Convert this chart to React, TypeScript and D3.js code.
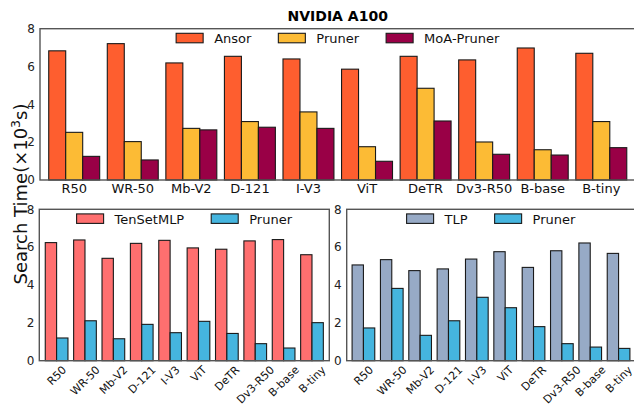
import React, { useEffect, useRef } from 'react';
import * as d3 from 'd3';

// Top panel: NVIDIA A100
const topModels = ['R50', 'WR-50', 'Mb-V2', 'D-121', 'I-V3', 'ViT', 'DeTR', 'Dv3-R50', 'B-base', 'B-tiny'];
const ansor = [6.83, 7.21, 6.19, 6.54, 6.40, 5.86, 6.54, 6.35, 6.98, 6.70];
const prunerTop = [2.52, 2.03, 2.73, 3.09, 3.60, 1.76, 4.85, 2.01, 1.60, 3.09];
const moaPruner = [1.25, 1.06, 2.65, 2.79, 2.73, 0.99, 3.12, 1.36, 1.32, 1.71];

// Bottom-left: TenSetMLP vs Pruner
const tensetMLP = [6.24, 6.38, 5.41, 6.20, 6.36, 5.96, 5.89, 6.33, 6.40, 5.60];
const prunerLeft = [1.20, 2.11, 1.16, 1.92, 1.48, 2.08, 1.44, 0.90, 0.67, 2.01];

// Bottom-right: TLP vs Pruner
const tlp = [5.06, 5.34, 4.76, 4.85, 5.37, 5.76, 4.93, 5.81, 6.22, 5.67];
const prunerRight = [1.73, 3.82, 1.34, 2.11, 3.35, 2.80, 1.80, 0.90, 0.72, 0.65];

const yTicks = [0, 2, 4, 6, 8];

const FONT = 'DejaVu Sans, Verdana, sans-serif';

type Series = { name: string; values: number[]; color: string };

function measure(text: string, size: number) {
  const ctx = document.createElement('canvas').getContext('2d');
  if (!ctx) return text.length * size * 0.6;
  ctx.font = `${size}px "DejaVu Sans"`;
  return ctx.measureText(text).width;
}

function drawPanel(
  svg: d3.Selection<SVGSVGElement, unknown, null, undefined>,
  box: { left: number; right: number; top: number; bottom: number },
  series: Series[],
  opts: { barW: number; pad: number; rotate: boolean }
) {
  const g = svg.append('g');
  const x = d3.scaleLinear().domain([-opts.pad, topModels.length - 1 + opts.pad]).range([box.left, box.right]);
  const y = d3.scaleLinear().domain([0, 8]).range([box.bottom, box.top]);
  const n = series.length;

  // bars
  series.forEach((s, si) => {
    g.selectAll(null).data(s.values).join('rect')
      .attr('x', (_, i) => x(i + (si - n / 2) * opts.barW))
      .attr('width', x(opts.barW) - x(0))
      .attr('y', d => y(d))
      .attr('height', d => y(0) - y(d))
      .attr('fill', s.color)
      .attr('stroke', '#1a1a1a').attr('stroke-width', 1.1);
  });

  // frame
  g.append('rect').attr('x', box.left).attr('y', box.top)
    .attr('width', box.right - box.left).attr('height', box.bottom - box.top)
    .attr('fill', 'none').attr('stroke', '#555').attr('stroke-width', 1.4);

  // y ticks
  g.selectAll(null).data(yTicks).join('text')
    .attr('x', box.left - 5).attr('y', d => y(d)).attr('dy', '0.36em')
    .attr('text-anchor', 'end').attr('font-family', FONT).attr('font-size', 12).attr('fill', '#222')
    .text(d => d);

  // x ticks
  if (!opts.rotate) {
    g.selectAll(null).data(topModels).join('text')
      .attr('x', (_, i) => x(i)).attr('y', box.bottom + 13)
      .attr('text-anchor', 'middle').attr('font-family', FONT).attr('font-size', 13).attr('fill', '#111')
      .text(d => d);
  } else {
    // rotated 45°, bounding box centred under the tick
    g.selectAll(null).data(topModels).join('text')
      .attr('transform', (d, i) => {
        const w = measure(d, 11);
        const h = (w + 12.8) * Math.SQRT1_2;
        return `translate(${x(i)},${box.bottom + 2.5 + h / 2}) rotate(-45)`;
      })
      .attr('text-anchor', 'middle').attr('dy', '0.36em')
      .attr('font-family', FONT).attr('font-size', 11).attr('fill', '#111')
      .text(d => d);
  }

  // legend, centred on the frame
  const handleW = 27, handleGap = 11, colGap = 27;
  const widths = series.map(s => handleW + handleGap + measure(s.name, 13));
  const total = d3.sum(widths) + colGap * (n - 1);
  let lx = (box.left + box.right) / 2 - total / 2;
  const ly = box.top + 4.6;
  series.forEach((s, si) => {
    g.append('rect').attr('x', lx).attr('y', ly).attr('width', handleW).attr('height', 9.5)
      .attr('fill', s.color).attr('stroke', '#1a1a1a').attr('stroke-width', 1.1);
    g.append('text').attr('x', lx + handleW + handleGap).attr('y', ly + 9.7)
      .attr('font-family', FONT).attr('font-size', 13).attr('fill', '#111').text(s.name);
    lx += widths[si] + colGap;
  });
}

export default function App() {
  const svgRef = useRef<SVGSVGElement>(null);

  useEffect(() => {
    const svg = d3.select(svgRef.current as SVGSVGElement);
    svg.selectAll('*').remove();

    drawPanel(svg, { left: 40, right: 635.5, top: 28.7, bottom: 180 }, [
      { name: 'Ansor', values: ansor, color: '#FE5E2F' },
      { name: 'Pruner', values: prunerTop, color: '#FCBB35' },
      { name: 'MoA-Pruner', values: moaPruner, color: '#990046' },
    ], { barW: 0.29, pad: 0.584, rotate: false });

    drawPanel(svg, { left: 39.3, right: 329.3, top: 209.3, bottom: 360.7 }, [
      { name: 'TenSetMLP', values: tensetMLP, color: '#FF6F6F' },
      { name: 'Pruner', values: prunerLeft, color: '#45B5DF' },
    ], { barW: 0.4, pad: 0.61, rotate: true });

    drawPanel(svg, { left: 346.7, right: 635.3, top: 209.3, bottom: 360.7 }, [
      { name: 'TLP', values: tlp, color: '#97AAC6' },
      { name: 'Pruner', values: prunerRight, color: '#45B5DF' },
    ], { barW: 0.4, pad: 0.59, rotate: true });

    // title
    svg.append('text').attr('x', 337.7).attr('y', 20.5).attr('text-anchor', 'middle')
      .attr('font-family', FONT).attr('font-size', 14).attr('font-weight', 'bold').attr('fill', '#000')
      .text('NVIDIA A100');

    // shared y label
    const yl = svg.append('text').attr('transform', 'translate(26.5,194) rotate(-90)')
      .attr('text-anchor', 'middle').attr('font-family', FONT).attr('font-size', 18).attr('fill', '#111');
    yl.append('tspan').text('Search Time(\u00d710');
    yl.append('tspan').attr('font-size', 12.5).attr('dy', -7).text('3');
    yl.append('tspan').attr('dy', 7).text('s)');
  }, []);

  return (
    <svg ref={svgRef} width={634} height={406}
      style={{ display: 'block', position: 'fixed', left: 0, top: 0, background: '#fff' }} />
  );
}
